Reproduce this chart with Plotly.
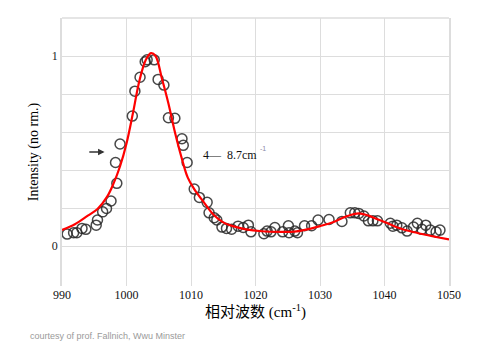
import plotly.graph_objects as go

# measured data points (open circles)
data_x = [990.8, 991.8, 992.3, 993.1, 993.7, 995.3, 995.5, 996.3, 996.9, 997.6, 998.5, 998.3, 999.0,
          1000.9, 1001.3, 1002.1, 1002.9, 1003.2, 1004.3, 1004.9, 1005.8, 1006.5, 1007.5, 1008.6, 1008.8, 1009.4,
          1010.5, 1011.3, 1012.5, 1012.8, 1013.6, 1014.0, 1014.8, 1015.5, 1016.3, 1017.3, 1018.1, 1018.9, 1019.3,
          1021.3, 1021.8, 1022.4, 1023.0, 1024.2, 1025.1, 1025.2, 1026.1, 1026.5, 1027.6, 1028.7, 1029.7,
          1031.4, 1033.4, 1034.7, 1035.4, 1036.0, 1036.8, 1037.5, 1038.2, 1038.9,
          1040.9, 1041.3, 1041.9, 1042.7, 1043.5, 1044.5, 1045.1, 1045.8, 1046.4, 1047.1, 1048.0, 1048.6]
data_y = [0.063, 0.070, 0.070, 0.093, 0.088, 0.110, 0.137, 0.180, 0.198, 0.237, 0.330, 0.440, 0.537,
          0.684, 0.815, 0.888, 0.970, 0.980, 0.980, 0.877, 0.847, 0.675, 0.672, 0.565, 0.530, 0.440,
          0.300, 0.256, 0.230, 0.175, 0.149, 0.137, 0.100, 0.093, 0.089, 0.105, 0.098, 0.110, 0.075,
          0.065, 0.079, 0.075, 0.098, 0.075, 0.107, 0.070, 0.079, 0.070, 0.107, 0.107, 0.137,
          0.140, 0.130, 0.175, 0.175, 0.172, 0.158, 0.133, 0.133, 0.133,
          0.120, 0.105, 0.110, 0.096, 0.079, 0.100, 0.120, 0.088, 0.110, 0.084, 0.075, 0.084]

# fitted curve
fit_x = [990, 992, 994, 995.5, 997, 998, 999, 1000, 1001, 1002, 1003, 1003.8, 1004.5, 1005.5, 1006.5,
         1007.5, 1008.5, 1009.5, 1010.5, 1012, 1013.5, 1015, 1016.5, 1018.5, 1021, 1024, 1026, 1028, 1030,
         1032, 1034, 1036, 1037.5, 1039, 1040.5, 1042, 1044, 1046, 1048, 1050]
fit_y = [0.085, 0.115, 0.160, 0.195, 0.260, 0.330, 0.420, 0.540, 0.700, 0.870, 0.980, 1.015, 1.000, 0.880,
         0.750, 0.600, 0.470, 0.360, 0.300, 0.230, 0.165, 0.125, 0.105, 0.088, 0.078, 0.075, 0.076, 0.088,
         0.105, 0.125, 0.155, 0.172, 0.160, 0.140, 0.120, 0.098, 0.078, 0.062, 0.048, 0.035]

x_ticks = [990, 1000, 1010, 1020, 1030, 1040, 1050]
y_ticks = [0, 0.2, 0.4, 0.6, 0.8, 1.0]
y_ticktext = ["0", "", "", "", "", "1"]

serif = "Liberation Serif, DejaVu Serif, serif"

# figure geometry (page has an 8px body margin)
W, H = 494, 356
ML, MR, MT, MB = 54, 53, 10, 78
PW, PH = W - ML - MR, H - MT - MB

fig = go.Figure()
fig.add_trace(go.Scatter(
    x=data_x, y=data_y, mode="markers",
    marker=dict(symbol="circle-open", size=10, color="rgba(40,40,40,0.85)", line=dict(width=1.5)),
    showlegend=False, hoverinfo="skip"))
fig.add_trace(go.Scatter(
    x=fit_x, y=fit_y, mode="lines", line=dict(color="#ff0000", width=2.2, shape="spline"),
    showlegend=False, hoverinfo="skip"))

fig.update_layout(
    width=W, height=H,
    margin=dict(l=ML, r=MR, t=MT, b=MB),
    paper_bgcolor="white", plot_bgcolor="white",
    font=dict(family=serif, color="#111"),
    xaxis=dict(range=[990, 1050], tickvals=x_ticks, showgrid=True, gridcolor="#dddddd", gridwidth=1,
               zeroline=False, showline=False, ticks="", tickfont=dict(size=12, family=serif, color="#111"),
               title=dict(text="相对波数 (cm<sup>-1</sup>)", standoff=4,
                          font=dict(size=15, family="Liberation Serif, Noto Sans CJK SC", color="#000"))),
    yaxis=dict(range=[-0.21, 1.2], tickvals=y_ticks, ticktext=y_ticktext, showgrid=True,
               gridcolor="#dddddd", gridwidth=1, zeroline=False, showline=True, mirror=True,
               linecolor="#dddddd", linewidth=1.5, ticks="", tickfont=dict(size=12, family=serif, color="#222"),
               title=dict(text="Intensity (no rm.)", standoff=10, font=dict(size=14, family=serif, color="#000"))),
    shapes=[dict(type="line", xref="paper", yref="paper", x0=0, x1=1, y0=1, y1=1,
                 line=dict(color="#dddddd", width=1.5))],
    annotations=[
        dict(x=996.6, y=0.495, ax=994.0, ay=0.495, xref="x", yref="y", axref="x", ayref="y",
             showarrow=True, arrowhead=2, arrowsize=1, arrowwidth=1.3, arrowcolor="#333", text=""),
        dict(x=1011.5, y=0.48, xref="x", yref="y", text="4—  8.7cm", showarrow=False,
             xanchor="left", font=dict(size=12, family=serif, color="#111")),
        dict(x=1020.4, y=0.515, xref="x", yref="y", text="-1", showarrow=False,
             xanchor="left", font=dict(size=7, family="Liberation Sans", color="#8a8aa8")),
        dict(x=(20 - ML) / PW, y=(278 - 328) / PH, xref="paper", yref="paper",
             text="courtesy of prof. Fallnich, Wwu Minster",
             showarrow=False, xanchor="left", yanchor="middle",
             font=dict(size=9, family="Liberation Sans, Arial", color="#9a9a9a")),
    ],
)

fig.write_html("out.html")
